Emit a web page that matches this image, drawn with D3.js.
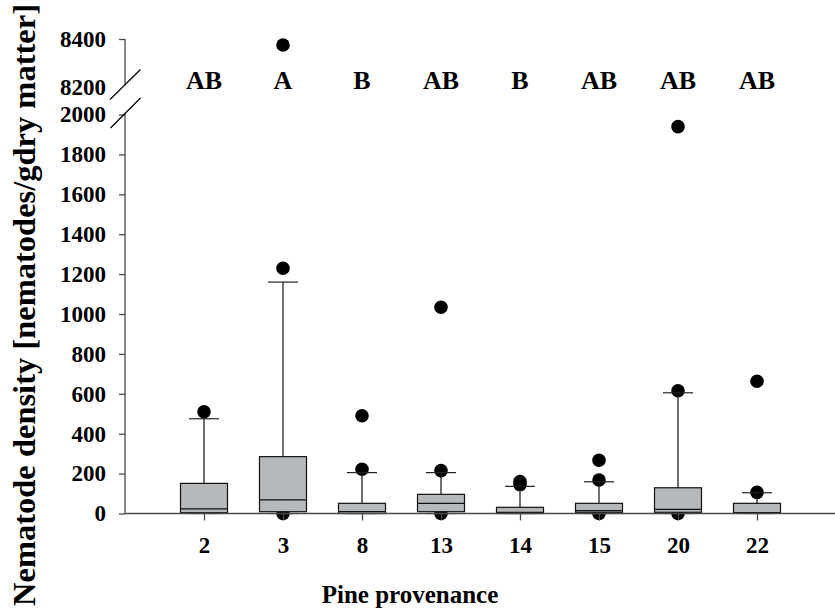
<!DOCTYPE html>
<html>
<head>
<meta charset="utf-8">
<script src="https://cdn.jsdelivr.net/npm/d3@7"></script>
<style>
  html, body { margin: 0; padding: 0; background: #fff; }
  svg { display: block; }
  svg text { font-family: "Liberation Serif", "Times New Roman", serif; font-weight: bold; fill: #000; }
</style>
</head>
<body>
<svg id="chart" width="835" height="611"></svg>
<script>
// Pine provenances on the x axis
const provenances = ["2", "3", "8", "13", "14", "15", "20", "22"];

// Box statistics per provenance (nematodes / g dry matter)
const whiskerLow  = [0, 0, 0, 0, 0, 0, 0, 0];
const quartile1   = [4, 9, 0, 9, 0, 6, 6, 2];
const medians     = [23, 68, 9, 51, 6, 14, 21, 5];
const quartile3   = [151, 285, 51, 96, 31, 51, 129, 51];
const whiskerHigh = [475, 1160, 205, 205, 136, 159, 605, 104];

// Outlying observations per provenance
const outliers = [
  [510],
  [0, 1229, 8375],
  [222, 490],
  [0, 215, 1034],
  [145, 160],
  [0, 168, 267],
  [0, 615, 1939],
  [106, 663]
];

// Significance letters
const groupLetters = ["AB", "A", "B", "AB", "B", "AB", "AB", "AB"];

// Tick labels on both segments of the broken y axis
const lowerTicks = [0, 200, 400, 600, 800, 1000, 1200, 1400, 1600, 1800, 2000];
const upperTicks = [8200, 8400];

const svg = d3.select("#chart");
const axisColor = "#4a4a4a";
const boxFill = "#b6b9bb";
const serif = "'Liberation Serif', 'Times New Roman', serif";

const x = d3.scalePoint().domain(provenances).range([125, 836]).padding(1);
const yLow = d3.scaleLinear().domain([0, 2000]).range([513.5, 114.5]);
const yHigh = d3.scaleLinear().domain([8200, 8400]).range([87, 39]);
const yOf = v => v > 2000 ? yHigh(v) : yLow(v);

const boxW = 47, capW = 30, dotR = 6.8;

// Outliers first so the boxes sit over the zero values
const dots = [];
provenances.forEach((p, i) => outliers[i].forEach(v => dots.push({ p, v })));
svg.append("g").selectAll("circle").data(dots).join("circle")
  .attr("cx", d => x(d.p)).attr("cy", d => yOf(d.v)).attr("r", dotR)
  .attr("fill", "#000");

const boxes = svg.append("g").selectAll("g").data(provenances).join("g");
boxes.each(function (p, i) {
  const g = d3.select(this);
  const cx = x(p);
  // whiskers
  g.append("line").attr("x1", cx).attr("x2", cx)
    .attr("y1", yLow(quartile3[i])).attr("y2", yLow(whiskerHigh[i]))
    .attr("stroke", "#111").attr("stroke-width", 1.2);
  g.append("line").attr("x1", cx - capW / 2).attr("x2", cx + capW / 2)
    .attr("y1", yLow(whiskerHigh[i])).attr("y2", yLow(whiskerHigh[i]))
    .attr("stroke", "#222").attr("stroke-width", 1.2);
  g.append("line").attr("x1", cx - capW / 2).attr("x2", cx + capW / 2)
    .attr("y1", yLow(whiskerLow[i])).attr("y2", yLow(whiskerLow[i]))
    .attr("stroke", "#222").attr("stroke-width", 1.2);
  // box
  g.append("rect")
    .attr("x", cx - boxW / 2).attr("width", boxW)
    .attr("y", yLow(quartile3[i]))
    .attr("height", yLow(quartile1[i]) - yLow(quartile3[i]))
    .attr("fill", boxFill).attr("stroke", "#111").attr("stroke-width", 1.2);
  // median
  g.append("line").attr("x1", cx - boxW / 2).attr("x2", cx + boxW / 2)
    .attr("y1", yLow(medians[i])).attr("y2", yLow(medians[i]))
    .attr("stroke", "#111").attr("stroke-width", 1.2);
});

// Lower y axis segment
const axLow = svg.append("g").attr("transform", "translate(125,0)")
  .call(d3.axisLeft(yLow).tickValues(lowerTicks).tickFormat(d3.format("d"))
    .tickSize(6).tickPadding(13).tickSizeOuter(0));
axLow.select(".domain").attr("d", `M0,${yLow(0)}V113.5`);

// Upper y axis segment (tick mark only at 8400)
const axHigh = svg.append("g").attr("transform", "translate(125,0)")
  .call(d3.axisLeft(yHigh).tickValues(upperTicks).tickFormat(d3.format("d"))
    .tickSize(6).tickPadding(13).tickSizeOuter(0));
axHigh.select(".domain").attr("d", `M0,84.5V${yHigh(8400)}`);
axHigh.selectAll(".tick line").filter(d => d === 8200).remove();

[axLow, axHigh].forEach(a => {
  a.attr("font-family", serif).attr("font-size", 23).attr("font-weight", "bold");
  a.selectAll(".domain, .tick line").attr("stroke", axisColor).attr("stroke-width", 1.3);
  a.selectAll(".tick text").attr("fill", "#000");
});

// Break marks
svg.append("g").selectAll("line").data([[110, 99.5, 140.5, 69.5], [110.5, 128, 140.5, 98]]).join("line")
  .attr("x1", d => d[0]).attr("y1", d => d[1]).attr("x2", d => d[2]).attr("y2", d => d[3])
  .attr("stroke", "#000").attr("stroke-width", 1.2);

// X axis
const axX = svg.append("g").attr("transform", `translate(0,${yLow(0)})`)
  .call(d3.axisBottom(x).tickSize(7).tickPadding(16).tickSizeOuter(0));
axX.attr("font-family", serif).attr("font-size", 23).attr("font-weight", "bold");
axX.select(".domain").attr("d", "M125,0H836");
axX.selectAll(".domain, .tick line").attr("stroke", axisColor).attr("stroke-width", 1.3);
axX.selectAll(".tick text").attr("fill", "#000");

// Group letters
svg.append("g").selectAll("text").data(provenances).join("text")
  .attr("x", d => x(d)).attr("y", 89)
  .attr("text-anchor", "middle").style("font-size", "26px")
  .text((d, i) => groupLetters[i]);

// Axis titles
svg.append("text").attr("x", 410).attr("y", 603)
  .attr("text-anchor", "middle").style("font-size", "25px")
  .text("Pine provenance");

svg.append("text").attr("transform", "translate(35,305) rotate(-90)")
  .attr("text-anchor", "middle").style("font-size", "32.5px")
  .text("Nematode density [nematodes/gdry matter]");
</script>
</body>
</html>
